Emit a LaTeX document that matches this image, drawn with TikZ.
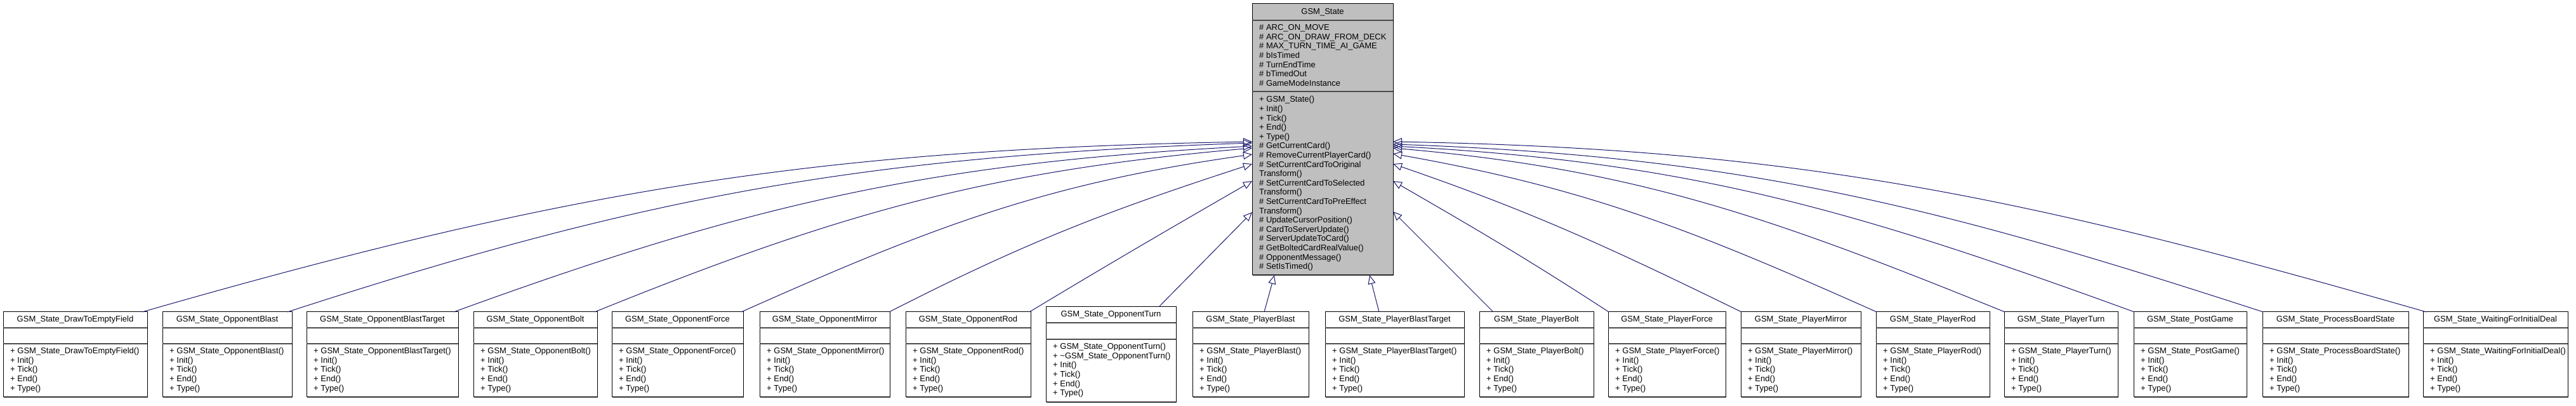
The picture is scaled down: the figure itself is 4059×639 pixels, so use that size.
\documentclass[tikz,border=0pt]{standalone}
\usepackage{fontspec}
\setmainfont{Liberation Sans}
\usetikzlibrary{arrows.meta,shadows}
\definecolor{edgeblue}{HTML}{191970}
\definecolor{basefill}{HTML}{BFBFBF}
\tikzset{
  umlfont/.style={font=\fontsize{13}{14.6}\selectfont},
  clsbox/.style={draw=black, line width=1pt, fill=white, inner sep=0pt, outer sep=0pt, anchor=north west,
    general shadow={fill=black!60, shadow xshift=1.2pt, shadow yshift=-1.2pt}},
  basebox/.style={clsbox, fill=basefill},
  sepline/.style={draw=black!70, line width=2pt},
  ttltext/.style={umlfont, inner sep=0pt, anchor=base},
  listtext/.style={umlfont, inner sep=0pt, anchor=base west, align=left},
  inherit/.style={draw=edgeblue, line width=1pt, -{Triangle[open, length=14pt, width=12pt]}},
}
% \mbase: distance from box top to the baseline of the LAST method line
\def\sepb{50}
\def\mbase{124.1}
\newcommand\childbox[7]{%
  \pgfmathsetmacro\cw{#3-#2}%
  \pgfmathsetmacro\ch{#5-#4}%
  \pgfmathsetmacro\ctop{639-#4}%
  \node[clsbox, minimum width=\cw pt, minimum height=\ch pt] (#1) at (#2,\ctop) {};
  \draw[sepline] ([yshift=-25pt]#1.north west) -- ([yshift=-25pt]#1.north east);
  \draw[sepline] ([yshift=-\sepb pt]#1.north west) -- ([yshift=-\sepb pt]#1.north east);
  \node[ttltext] (#1-t) at ([yshift=-15.5pt]#1.north) {#6};
  \node[listtext] (#1-m) at ([xshift=11pt,yshift=-\mbase pt]#1.north west) {#7};
}
\newcommand\stdm[1]{+ #1()\\+ Init()\\+ Tick()\\+ End()\\+ Type()}
\begin{document}
\begin{tikzpicture}[x=1pt,y=1pt]
\fill[white] (0,0) rectangle (4059,639);
\useasboundingbox (0,0) rectangle (4059,639);

% base class
\node[basebox, minimum width=222pt, minimum height=427pt] (base) at (1973,633) {};
\draw[sepline] ([yshift=-26pt]base.north west) -- ([yshift=-26pt]base.north east);
\draw[sepline] ([yshift=-138pt]base.north west) -- ([yshift=-138pt]base.north east);
\node[ttltext] (base-t) at ([yshift=-16.7pt]base.north) {GSM\_State};
\node[listtext] (base-a) at ([xshift=11pt,yshift=-129.3pt]base.north west)
  {\# ARC\_ON\_MOVE\\\# ARC\_ON\_DRAW\_FROM\_DECK\\\# MAX\_TURN\_TIME\_AI\_GAME\\\# bIsTimed\\\# TurnEndTime\\\# bTimedOut\\\# GameModeInstance};
\node[listtext] (base-m) at ([xshift=11pt,yshift=-417.8pt]base.north west)
  {+ GSM\_State()\\+ Init()\\+ Tick()\\+ End()\\+ Type()\\\# GetCurrentCard()\\\# RemoveCurrentPlayerCard()\\\# SetCurrentCardToOriginal\\Transform()\\\# SetCurrentCardToSelected\\Transform()\\\# SetCurrentCardToPreEffect\\Transform()\\\# UpdateCursorPosition()\\\# CardToServerUpdate()\\\# ServerUpdateToCard()\\\# GetBoltedCardRealValue()\\\# OpponentMessage()\\\# SetIsTimed()};

% derived classes
\childbox{c1}{5}{232}{491}{625}{GSM\_State\_DrawToEmptyField}{\stdm{GSM\_State\_DrawToEmptyField}}
\childbox{c2}{256}{460}{491}{625}{GSM\_State\_OpponentBlast}{\stdm{GSM\_State\_OpponentBlast}}
\childbox{c3}{483}{722}{491}{625}{GSM\_State\_OpponentBlastTarget}{\stdm{GSM\_State\_OpponentBlastTarget}}
\childbox{c4}{746}{941}{491}{625}{GSM\_State\_OpponentBolt}{\stdm{GSM\_State\_OpponentBolt}}
\childbox{c5}{964}{1171}{491}{625}{GSM\_State\_OpponentForce}{\stdm{GSM\_State\_OpponentForce}}
\childbox{c6}{1197}{1402}{491}{625}{GSM\_State\_OpponentMirror}{\stdm{GSM\_State\_OpponentMirror}}
\childbox{c7}{1427}{1624}{491}{625}{GSM\_State\_OpponentRod}{\stdm{GSM\_State\_OpponentRod}}
\def\sepb{51}\def\mbase{139.7}
\childbox{c8}{1648}{1853}{483}{633}{GSM\_State\_OpponentTurn}{+ GSM\_State\_OpponentTurn()\\+ \textasciitilde GSM\_State\_OpponentTurn()\\+ Init()\\+ Tick()\\+ End()\\+ Type()}
\def\sepb{50}\def\mbase{124.1}
\childbox{c9}{1879}{2062}{491}{625}{GSM\_State\_PlayerBlast}{\stdm{GSM\_State\_PlayerBlast}}
\childbox{c10}{2088}{2307}{491}{625}{GSM\_State\_PlayerBlastTarget}{\stdm{GSM\_State\_PlayerBlastTarget}}
\childbox{c11}{2331}{2511}{491}{625}{GSM\_State\_PlayerBolt}{\stdm{GSM\_State\_PlayerBolt}}
\childbox{c12}{2534}{2719}{491}{625}{GSM\_State\_PlayerForce}{\stdm{GSM\_State\_PlayerForce}}
\childbox{c13}{2743}{2932}{491}{625}{GSM\_State\_PlayerMirror}{\stdm{GSM\_State\_PlayerMirror}}
\childbox{c14}{2956}{3135}{491}{625}{GSM\_State\_PlayerRod}{\stdm{GSM\_State\_PlayerRod}}
\childbox{c15}{3158}{3337}{491}{625}{GSM\_State\_PlayerTurn}{\stdm{GSM\_State\_PlayerTurn}}
\childbox{c16}{3362}{3540}{491}{625}{GSM\_State\_PostGame}{\stdm{GSM\_State\_PostGame}}
\childbox{c17}{3565}{3795}{491}{625}{GSM\_State\_ProcessBoardState}{\stdm{GSM\_State\_ProcessBoardState}}
\childbox{c18}{3818}{4046}{491}{625}{GSM\_State\_WaitingForInitialDeal}{\stdm{GSM\_State\_WaitingForInitialDeal}}

% inheritance connectors
\draw[inherit] ([xshift=-8pt]c1.north east) .. controls +(16:693pt) and +(181:693pt) .. ([yshift=-217pt]base.north west);
\draw[inherit] ([xshift=-7pt]c2.north east) .. controls +(18:604pt) and +(182:604pt) .. ([yshift=-219pt]base.north west);
\draw[inherit] ([xshift=-7pt]c3.north east) .. controls +(20:503pt) and +(183:503pt) .. ([yshift=-224pt]base.north west);
\draw[inherit] ([xshift=-4pt]c4.north east) .. controls +(22:418pt) and +(185:418pt) .. ([yshift=-227pt]base.north west);
\draw[inherit] ([xshift=-3pt]c5.north east) .. controls +(24:330pt) and +(188:330pt) .. ([yshift=-237pt]base.north west);
\draw[inherit] ([xshift=-1pt]c6.north east) .. controls +(27:242pt) and +(198:242pt) .. ([yshift=-252pt]base.north west);
\draw[inherit] ([xshift=-2pt]c7.north east) .. controls +(31:159pt) and +(210:159pt) .. ([yshift=-279pt]base.north west);
\draw[inherit] ([xshift=-27pt]c8.north east) -- ([yshift=-328pt]base.north west);
\draw[inherit] ([xshift=113pt]c9.north west) -- ([xshift=35pt]base.south west);
\draw[inherit] ([xshift=85pt]c10.north west) -- ([xshift=-37pt]base.south east);
\draw[inherit] ([xshift=22pt]c11.north west) -- ([yshift=-327pt]base.north east);
\draw[inherit] ([xshift=1pt]c12.north west) .. controls +(147:155pt) and +(330:155pt) .. ([yshift=-279pt]base.north east);
\draw[inherit] ([xshift=1pt]c13.north west) .. controls +(154:233pt) and +(341:233pt) .. ([yshift=-252pt]base.north east);
\draw[inherit] ([xshift=1pt]c14.north west) .. controls +(156:313pt) and +(350:313pt) .. ([yshift=-236pt]base.north east);
\draw[inherit] ([xshift=1pt]c15.north west) .. controls +(158:390pt) and +(355:390pt) .. ([yshift=-227pt]base.north east);
\draw[inherit] ([xshift=1pt]c16.north west) .. controls +(160:468pt) and +(357:468pt) .. ([yshift=-224pt]base.north east);
\draw[inherit] ([xshift=1pt]c17.north west) .. controls +(162:546pt) and +(358:546pt) .. ([yshift=-221pt]base.north east);
\draw[inherit] ([xshift=5pt]c18.north west) .. controls +(164:646pt) and +(359:646pt) .. ([yshift=-217pt]base.north east);
\end{tikzpicture}
\end{document}
